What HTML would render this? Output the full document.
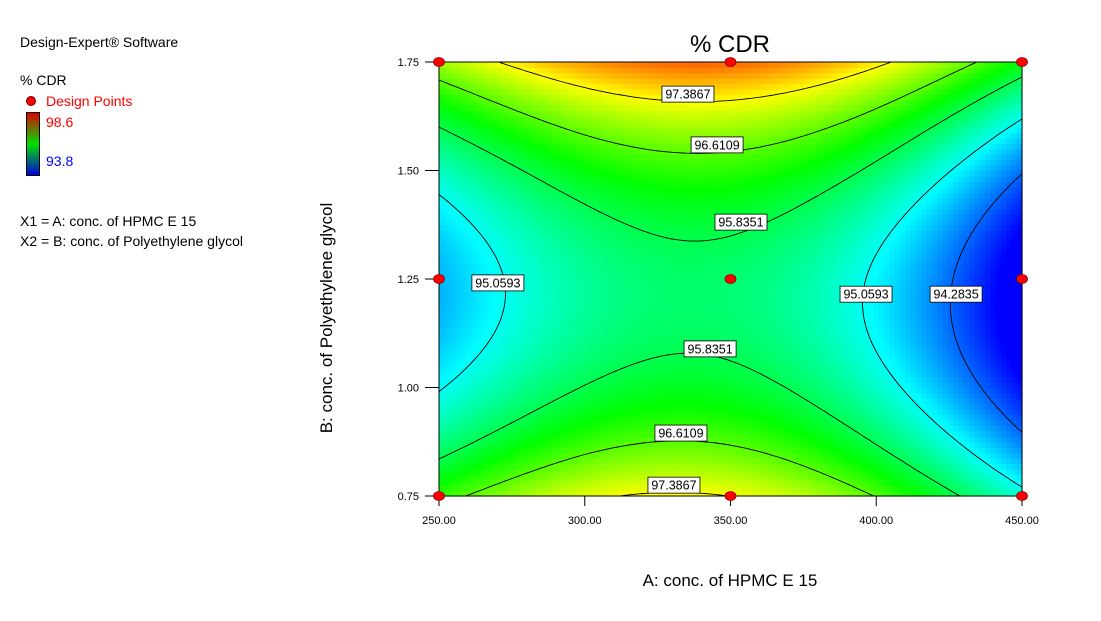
<!DOCTYPE html>
<html><head><meta charset="utf-8"><style>
body{margin:0;background:#fff;width:1101px;height:616px;overflow:hidden;font-family:"Liberation Sans",Arial,sans-serif}
svg text{font-family:"Liberation Sans",Arial,sans-serif}
</style></head><body>
<svg id="chart" width="1101" height="616" viewBox="0 0 1101 616" xmlns="http://www.w3.org/2000/svg">
<defs><linearGradient id="lg" x1="0" y1="0" x2="0" y2="1">
<stop offset="0" stop-color="#e00000"/><stop offset="0.5" stop-color="#00e000"/><stop offset="1" stop-color="#0000e0"/></linearGradient></defs>
<text x="20" y="47" font-size="14">Design-Expert® Software</text>
<text x="20" y="85" font-size="14">% CDR</text>
<circle cx="31" cy="101" r="4.5" fill="#f00" stroke="#600" stroke-width="1"/>
<text x="46" y="106" font-size="14" fill="#f00">Design Points</text>
<rect x="26.5" y="112.5" width="13" height="63" fill="url(#lg)" stroke="#000"/>
<text x="46" y="127" font-size="14" fill="#f00">98.6</text>
<text x="46" y="166" font-size="14" fill="#00f">93.8</text>
<text x="20" y="226" font-size="14">X1 = A: conc. of HPMC E 15</text>
<text x="20" y="246" font-size="14">X2 = B: conc. of Polyethylene glycol</text>
<text x="730" y="52" font-size="24" text-anchor="middle">% CDR</text>
<text x="730" y="586" font-size="17" text-anchor="middle">A: conc. of HPMC E 15</text>
<text transform="translate(332,318) rotate(-90)" font-size="17" text-anchor="middle">B: conc. of Polyethylene glycol</text>
<g id="heat"></g><g id="contours"></g><g id="axes"></g><g id="labels"></g><g id="points"></g>
</svg>
<script>
const gridA = [250, 300, 350, 400, 450];
const rowTop = [96.96, 97.89, 98.12, 97.5, 96.15];      // B = 1.75
const rowMid = [94.645, 95.48, 95.68, 94.98, 93.557];   // B = 1.25
const rowBot = [96.43, 97.28, 97.38, 96.59, 95.21];     // B = 0.75
const levels = [94.2835, 95.0593, 95.8351, 96.6109, 97.3867];
const xTicks = [250, 300, 350, 400, 450];
const yTicks = [0.75, 1.00, 1.25, 1.50, 1.75];
const designA = [250, 350, 450, 250, 350, 450, 250, 350, 450];
const designB = [1.75, 1.75, 1.75, 1.25, 1.25, 1.25, 0.75, 0.75, 0.75];
const labelA = [335.4, 345.4, 353.6, 270.2, 396.5, 427.4, 343.0, 333.0, 330.6];
const labelB = [1.676, 1.559, 1.381, 1.241, 1.215, 1.215, 1.089, 0.895, 0.775];
const labelLevel = [4, 3, 2, 1, 1, 0, 2, 3, 4];
const zMin = 93.8, zMax = 98.6;
const X0=439, X1=1022, Y0=62, Y1=496;
const sx = a => X0 + (a-250)/200*(X1-X0);
const sy = b => Y1 - (b-0.75)/1*(Y1-Y0);
function splineCoefs(y){
 const n=y.length, m=new Array(n).fill(0);
 const a=[],b=[],c=[],d=[];
 for(let i=1;i<n-1;i++){a.push(1);b.push(4);c.push(1);d.push(6*(y[i+1]-2*y[i]+y[i-1]));}
 const k=b.length;
 for(let i=1;i<k;i++){const w=a[i]/b[i-1];b[i]-=w*c[i-1];d[i]-=w*d[i-1];}
 const s=new Array(k);s[k-1]=d[k-1]/b[k-1];
 for(let i=k-2;i>=0;i--)s[i]=(d[i]-c[i]*s[i+1])/b[i];
 for(let i=0;i<k;i++)m[i+1]=s[i];
 return m;
}
function makeSpline(y){const m=splineCoefs(y);return function(u){
 let i=Math.min(Math.floor(u),y.length-2);if(i<0)i=0;const t=u-i;
 return (1-t)*y[i]+t*y[i+1]+((1-t)**3-(1-t))*m[i]/6+(t**3-t)*m[i+1]/6;};}
const spT=makeSpline(rowTop), spM=makeSpline(rowMid), spB=makeSpline(rowBot);
function model(a,b){
 const u=(a-gridA[0])/(gridA[1]-gridA[0]), y=(b-1.25)/0.5;
 const t=spT(u), m=spM(u), bo=spB(u);
 return m + (t-bo)/2*y + ((t+bo)/2-m)*y*y;
}
const NS='http://www.w3.org/2000/svg';
function mk(t,at,p){const e=document.createElementNS(NS,t);for(const k in at)e.setAttribute(k,at[k]);p.appendChild(e);return e;}
function col(z){let t=(z-zMin)/(zMax-zMin);t=Math.max(0,Math.min(1,t));return `hsl(${240*(1-t)},100%,50%)`;}
const heat=document.getElementById('heat');
const NX=110, NY=80;
for(let i=0;i<NX;i++)for(let j=0;j<NY;j++){
 const a=250+200*(i+0.5)/NX, b=0.75+(j+0.5)/NY;
 const r=mk('rect',{x:sx(250+200*i/NX),y:sy(0.75+(j+1)/NY),width:(X1-X0)/NX+0.6,height:(Y1-Y0)/NY+0.6,fill:col(model(a,b))},heat);
 
 
}
const cg=document.getElementById('contours');
const GX=160, GY=120;
levels.forEach(L=>{
 let d='';
 for(let i=0;i<GX;i++)for(let j=0;j<GY;j++){
  const a0=250+200*i/GX,a1=250+200*(i+1)/GX,b0=0.75+j/GY,b1=0.75+(j+1)/GY;
  const c=[[a0,b0],[a1,b0],[a1,b1],[a0,b1]];const v=c.map(p=>model(p[0],p[1])-L);
  const pts=[];
  for(let k=0;k<4;k++){const m=(k+1)%4;if((v[k]>0)!==(v[m]>0)){const t=v[k]/(v[k]-v[m]);
   pts.push([sx(c[k][0]+t*(c[m][0]-c[k][0])),sy(c[k][1]+t*(c[m][1]-c[k][1]))]);}}
  if(pts.length>=2){d+=`M${pts[0][0].toFixed(1)},${pts[0][1].toFixed(1)}L${pts[1][0].toFixed(1)},${pts[1][1].toFixed(1)}`;}
  if(pts.length===4){d+=`M${pts[2][0].toFixed(1)},${pts[2][1].toFixed(1)}L${pts[3][0].toFixed(1)},${pts[3][1].toFixed(1)}`;}
 }
 const p=mk('path',{d:d,stroke:'#000','stroke-width':0.9,fill:'none'},cg);
 
 
});
const ax=document.getElementById('axes');
const fr=mk('rect',{x:X0,y:Y0,width:X1-X0,height:Y1-Y0,fill:'none',stroke:'#000'},ax);


xTicks.forEach(v=>{
 mk('line',{x1:sx(v),x2:sx(v),y1:Y1,y2:Y1+10,stroke:'#000'},ax);
 const t=mk('text',{x:sx(v),y:Y1+28,'font-size':11,'text-anchor':'middle'},ax);t.textContent=v.toFixed(2);
 
 
});
yTicks.forEach(v=>{
 mk('line',{x1:X0-14,x2:X0,y1:sy(v),y2:sy(v),stroke:'#000'},ax);
 const t=mk('text',{x:X0-20,y:sy(v)+4,'font-size':11,'text-anchor':'end'},ax);t.textContent=v.toFixed(2);
 
 
});
const lg=document.getElementById('labels');
labelA.forEach((a,i)=>{
 const x=sx(a),y=sy(labelB[i]);
 const r=mk('rect',{x:x-26,y:y-8,width:52,height:16,fill:'#fff',stroke:'#000','stroke-width':0.8},lg);
 
 
 const t=mk('text',{x:x,y:y+4.5,'font-size':12.5,'text-anchor':'middle'},lg);t.textContent=levels[labelLevel[i]].toFixed(4);
 
 
});
const pg=document.getElementById('points');
designA.forEach((a,i)=>{
 const c=mk('ellipse',{cx:sx(a),cy:sy(designB[i]),rx:5.5,ry:4.5,fill:'#f00',stroke:'#800','stroke-width':0.8},pg);
 
 
});
</script>
</body></html>
